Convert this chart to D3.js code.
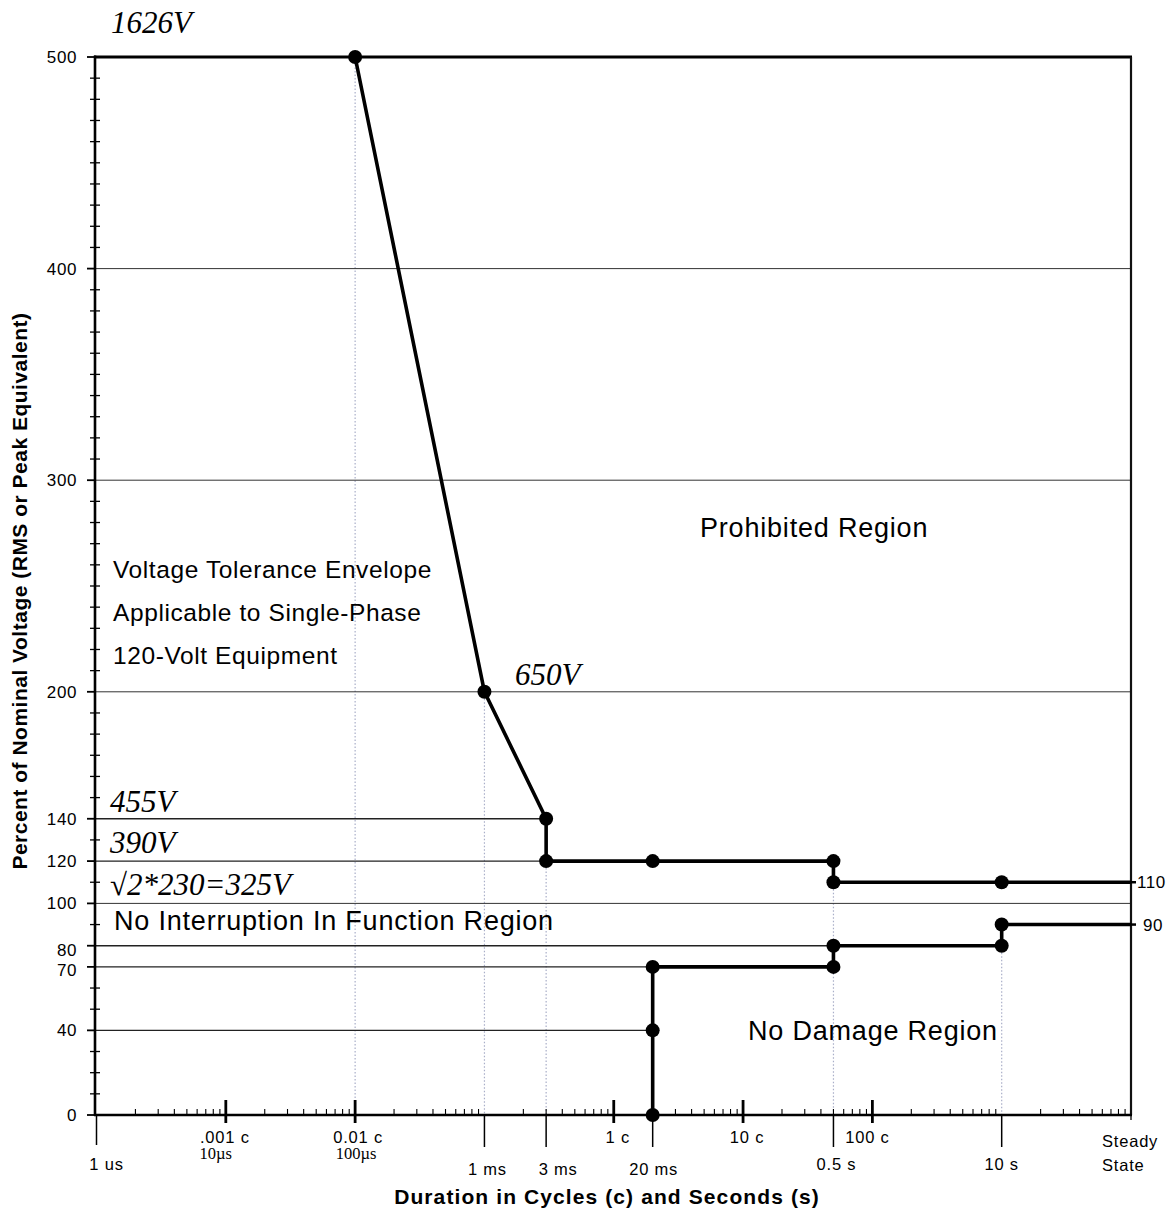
<!DOCTYPE html>
<html>
<head>
<meta charset="utf-8">
<script src="https://cdn.jsdelivr.net/npm/d3@7/dist/d3.min.js"></script>
<style>
  html, body { margin: 0; padding: 0; background: #fff; }
  svg { display: block; }
  .sans { font-family: "Liberation Sans", Arial, Helvetica, sans-serif; }
  .serif { font-family: "Liberation Serif", "Times New Roman", serif; }
</style>
</head>
<body>
<svg id="chart" width="1174" height="1209"></svg>
<script>
// ---------- DATA (time positions in seconds, as drawn: 1 c plotted at 10 ms) ----------
const upperTime = [1e-4, 1e-3, 3e-3, 3e-3, 0.02, 0.5, 0.5, 10, 100];
const upperVolt = [500, 200, 140, 120, 120, 120, 110, 110, 110];
const upperDots = [true, true, true, true, true, true, true, true, false];

const lowerTime = [0.02, 0.02, 0.02, 0.5, 0.5, 10, 10, 100];
const lowerVolt = [0, 40, 70, 70, 80, 80, 90, 90];
const lowerDots = [true, true, true, true, true, true, true, false];

const yTickValues = [0, 40, 70, 80, 100, 120, 140, 200, 300, 400, 500];
const yTickLabels = ["0", "40", "70", "80", "100", "120", "140", "200", "300", "400", "500"];

const cycleTickValues = [1e-5, 1e-4, 1e-2, 1e-1, 1];
const cycleTickLabels = [".001 c", "0.01 c", "1 c", "10 c", "100 c"];
const cycleSubLabels = ["10\u00b5s", "100\u00b5s", "", "", ""];

const secondTickValues = [1e-6, 1e-3, 3e-3, 0.02, 0.5, 10];
const secondTickLabels = ["1 us", "1 ms", "3 ms", "20 ms", "0.5 s", "10 s"];

const gridValues = [400, 300, 200, 100];
const refLineValues = [140, 120, 80, 70, 40];
const refLineEnds = [3e-3, 3e-3, 0.5, 0.02, 0.02];

const dropTimes = [1e-4, 1e-3, 3e-3, 0.5, 10];
const dropTops = [500, 200, 120, 110, 80];

const voltNotes = ["1626V", "650V", "455V", "390V", "\u221a2*230=325V"];

// ---------- LAYOUT ----------
const svg = d3.select("#chart");
const x = d3.scaleLog().domain([1e-6, 100]).range([96.5, 1131]);
const y = d3.scaleLinear().domain([0, 500]).range([1115, 57]);
const X1 = x.range()[1];

// vertical dotted guide lines
svg.append("g").selectAll("line").data(dropTimes).join("line")
  .attr("x1", d => x(d)).attr("x2", d => x(d))
  .attr("y1", (d, i) => y(dropTops[i])).attr("y2", y(0))
  .attr("stroke", "#a9aec8").attr("stroke-width", 1.2).attr("stroke-dasharray", "1.5,2");

// full-width gridlines
svg.append("g").selectAll("line").data(gridValues).join("line")
  .attr("x1", 95).attr("x2", X1)
  .attr("y1", d => y(d)).attr("y2", d => y(d))
  .attr("stroke", "#333").attr("stroke-width", 1);

// partial reference lines
svg.append("g").selectAll("line").data(refLineValues).join("line")
  .attr("x1", 95).attr("x2", (d, i) => x(refLineEnds[i]))
  .attr("y1", d => y(d)).attr("y2", d => y(d))
  .attr("stroke", "#222").attr("stroke-width", 1.4);

// Y axis (custom ticks)
const yMinor = d3.range(0, 501, 10).filter(v => !yTickValues.includes(v));
svg.append("g").selectAll("line").data(yMinor).join("line")
  .attr("x1", 90).attr("x2", 100)
  .attr("y1", d => y(d)).attr("y2", d => y(d))
  .attr("stroke", "#000").attr("stroke-width", 1.3);
svg.append("g").selectAll("line").data(yTickValues).join("line")
  .attr("x1", 87).attr("x2", 96)
  .attr("y1", d => y(d)).attr("y2", d => y(d))
  .attr("stroke", "#000").attr("stroke-width", 1.8);
const yLabOffset = {80: 4, 70: 3};
svg.append("g").selectAll("text").data(yTickValues).join("text")
  .attr("class", "sans")
  .attr("x", 77).attr("y", d => y(d) + 6 + (yLabOffset[d] || 0))
  .attr("text-anchor", "end").attr("font-size", 17).attr("letter-spacing", 0.6)
  .text((d, i) => yTickLabels[i]);

// frame: left axis, top, right
svg.append("line").attr("x1", 95).attr("x2", 95).attr("y1", y(500) - 1.5).attr("y2", y(0) + 1)
  .attr("stroke", "#000").attr("stroke-width", 2.6);
svg.append("line").attr("x1", 94).attr("x2", X1 + 1).attr("y1", y(500)).attr("y2", y(500))
  .attr("stroke", "#000").attr("stroke-width", 3.2);
svg.append("line").attr("x1", X1).attr("x2", X1).attr("y1", y(500)).attr("y2", y(0))
  .attr("stroke", "#111").attr("stroke-width", 2.2);

// X axis minor ticks
const xMinor = [];
for (let e = -6; e < 2; e++) for (let k = 2; k <= 9; k++) xMinor.push(k * Math.pow(10, e));
svg.append("g").selectAll("line").data(xMinor).join("line")
  .attr("x1", d => x(d)).attr("x2", d => x(d))
  .attr("y1", y(0) - 6).attr("y2", y(0))
  .attr("stroke", "#000").attr("stroke-width", 1.1);
// x axis line
svg.append("line").attr("x1", 94).attr("x2", X1 + 1).attr("y1", y(0)).attr("y2", y(0))
  .attr("stroke", "#000").attr("stroke-width", 2.6);
// steady state end tick
svg.append("line").attr("x1", X1).attr("x2", X1).attr("y1", y(0)).attr("y2", y(0) + 5)
  .attr("stroke", "#000").attr("stroke-width", 1.3);

// cycle major ticks
svg.append("g").selectAll("line").data(cycleTickValues).join("line")
  .attr("x1", d => x(d)).attr("x2", d => x(d))
  .attr("y1", y(0) - 15).attr("y2", y(0) + 8)
  .attr("stroke", "#000").attr("stroke-width", 2.8);
// second ticks
svg.append("g").selectAll("line").data(secondTickValues).join("line")
  .attr("x1", d => x(d)).attr("x2", d => x(d))
  .attr("y1", y(0)).attr("y2", (d, i) => i === 0 ? y(0) + 30 : y(0) + 32)
  .attr("stroke", "#000").attr("stroke-width", 1.5);

// cycle labels
const cycDx = [-1, 3, 4, 4, -5];
svg.append("g").selectAll("text").data(cycleTickValues).join("text")
  .attr("class", "sans").attr("font-size", 16.5).attr("letter-spacing", 0.8)
  .attr("x", (d, i) => x(d) + cycDx[i]).attr("y", 1143)
  .attr("text-anchor", "middle")
  .text((d, i) => cycleTickLabels[i]);
svg.append("g").selectAll("text").data(cycleTickValues.filter((d, i) => cycleSubLabels[i])).join("text")
  .attr("class", "serif").attr("font-size", 16.5)
  .attr("x", (d, i) => x(d) + (i === 0 ? -10 : 1)).attr("y", 1159)
  .attr("text-anchor", "middle")
  .text((d, i) => cycleSubLabels[i]);
// second labels
const secDx = [10, 3, 12, 1, 3, 0];
const secY = [1170, 1175, 1175, 1175, 1170, 1170];
svg.append("g").selectAll("text").data(secondTickValues).join("text")
  .attr("class", "sans").attr("font-size", 16.5).attr("letter-spacing", 0.8)
  .attr("x", (d, i) => x(d) + secDx[i]).attr("y", (d, i) => secY[i])
  .attr("text-anchor", "middle")
  .text((d, i) => secondTickLabels[i]);
// steady state
svg.append("text").attr("class", "sans").attr("font-size", 16.5).attr("letter-spacing", 0.8)
  .attr("x", x(100) - 29).attr("y", 1147).text("Steady");
svg.append("text").attr("class", "sans").attr("font-size", 16.5).attr("letter-spacing", 0.8)
  .attr("x", x(100) - 29).attr("y", 1171).text("State");

// curves
const line = d3.line().x(d => x(d[0])).y(d => y(d[1]));
const upper = upperTime.map((t, i) => [t, upperVolt[i]]);
const lower = lowerTime.map((t, i) => [t, lowerVolt[i]]);
[upper, lower].forEach(pts => {
  svg.append("path").datum(pts).attr("d", line)
    .attr("fill", "none").attr("stroke", "#000").attr("stroke-width", 3.6)
    .attr("stroke-linejoin", "round");
});
// stubs past right frame
svg.append("g").selectAll("line").data([110, 90]).join("line")
  .attr("x1", X1).attr("x2", X1 + 5)
  .attr("y1", d => y(d)).attr("y2", d => y(d))
  .attr("stroke", "#000").attr("stroke-width", 2.5);
svg.append("g").selectAll("text").data([110, 90]).join("text")
  .attr("class", "sans").attr("font-size", 17).attr("letter-spacing", 0.6)
  .attr("x", (d, i) => i === 0 ? X1 + 6 : X1 + 12).attr("y", d => y(d) + 6)
  .text(d => d);

// dots
const dots = upper.filter((d, i) => upperDots[i]).concat(lower.filter((d, i) => lowerDots[i]));
svg.append("g").selectAll("circle").data(dots).join("circle")
  .attr("cx", d => x(d[0])).attr("cy", d => y(d[1])).attr("r", 7)
  .attr("fill", "#000");

// italic voltage notes
const notePos = [[111, 33], [515, 685], [110, 812], [110, 853], [110, 895]];
svg.append("g").selectAll("text").data(voltNotes).join("text")
  .attr("class", "serif").attr("font-style", "italic").attr("font-size", 31)
  .attr("x", (d, i) => notePos[i][0]).attr("y", (d, i) => notePos[i][1])
  .text(d => d);

// region labels
const regionText = ["Prohibited Region", "Voltage Tolerance Envelope", "Applicable to Single-Phase",
  "120-Volt Equipment", "No Interruption In Function Region", "No Damage Region"];
const regionPos = [[700, 537], [113, 578], [113, 621], [113, 664], [114, 930], [748, 1040]];
const regionSize = [27, 24.5, 24.5, 24.5, 27, 27];
const regionLs = [0.8, 0.6, 0.6, 0.6, 0.8, 0.8];
svg.append("g").selectAll("text").data(regionText).join("text")
  .attr("class", "sans")
  .attr("font-size", (d, i) => regionSize[i]).attr("letter-spacing", (d, i) => regionLs[i])
  .attr("x", (d, i) => regionPos[i][0]).attr("y", (d, i) => regionPos[i][1])
  .text(d => d);

// axis titles
svg.append("text").attr("class", "sans").attr("font-weight", "bold").attr("font-size", 21)
  .attr("letter-spacing", 1.1)
  .attr("text-anchor", "middle").attr("x", 607).attr("y", 1204)
  .text("Duration in Cycles (c) and Seconds (s)");
svg.append("text").attr("class", "sans").attr("font-weight", "bold").attr("font-size", 21)
  .attr("letter-spacing", 0.5)
  .attr("text-anchor", "middle")
  .attr("transform", "translate(27,591) rotate(-90)")
  .text("Percent of Nominal Voltage (RMS or Peak Equivalent)");
</script>
</body>
</html>
